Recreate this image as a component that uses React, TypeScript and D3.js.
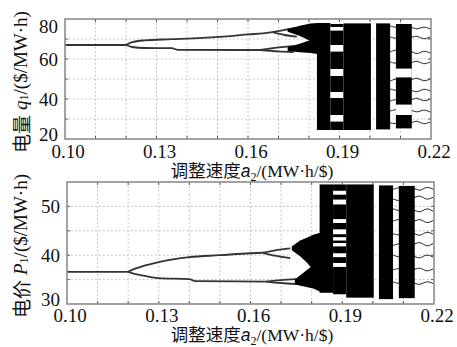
import React from "react";
import * as d3 from "d3";

// adjustment speed a2 (x axis, shared by both panels)
const aDomain = [0.1, 0.22];
const aTicks = [0.1, 0.13, 0.16, 0.19, 0.22];
const aGrid = [0.11, 0.12, 0.13, 0.14, 0.15, 0.16, 0.17, 0.18, 0.19, 0.2, 0.21];

// chaotic columns [a0, a1]
const chaosCols = [
  [0.1826, 0.187],
  [0.187, 0.1913],
  [0.1913, 0.2003],
  [0.202, 0.2066],
  [0.2085, 0.2137],
];
// a values of the sparse wandering orbits on the right
const sparseA = [0.2066, 0.209, 0.2115, 0.2137, 0.2155, 0.2175, 0.2197];

// ---- top panel: q1 ----
const q1Domain = [20, 80];
const q1Ticks = [20, 40, 60, 80];
const q1Grid = [30, 40, 50, 60, 70];
const q1Stable = [[0.1, 67], [0.12, 67]];
const q1UpperBranch = [[0.12, 67], [0.122, 68.4], [0.126, 69.3], [0.135, 69.9], [0.145, 70.6], [0.155, 71.6], [0.16, 72.3], [0.165, 72.8], [0.168, 73.4]];
const q1UpperHi = [[0.168, 73.4], [0.172, 74.6], [0.176, 75.5]];
const q1UpperLo = [[0.168, 73.4], [0.172, 72.0], [0.176, 71.2]];
const q1LowerBranch = [[0.12, 67], [0.122, 66.0], [0.126, 65.5], [0.135, 65.4], [0.137, 64.6], [0.164, 64.5]];
const q1LowerHi = [[0.164, 64.5], [0.17, 65.8], [0.175, 66.4]];
const q1LowerLo = [[0.164, 64.5], [0.17, 63.8], [0.175, 63.4]];
const q1Blobs = [
  [[0.173, 73.6, 75], [0.177, 71.5, 76.6], [0.1805, 69, 77.8], [0.1828, 67, 78]],
  [[0.173, 64, 66], [0.177, 63.4, 67.6], [0.1805, 63, 69.5], [0.1828, 62.5, 71]],
];
const q1ChaosLo = [24.5, 24.5, 24.5, 24.8, 25.3];
const q1ChaosHi = [78, 77.5, 77.8, 77.8, 77.5];
const q1Windows = [
  [],
  [[28.7, 32], [40.5, 43.5], [51.5, 55], [63.7, 67], [74.2, 76]],
  [],
  [],
  [[50.8, 55.2], [32, 37.2]],
];
const q1Sparse = [
  [76.5, 75.5, 76, 76, 74.5, 76.5, 75],
  [71, 70, 71.5, 70.5, 72, 69.5, 71],
  [63.5, 65, 64, 64, 62, 64.5, 63],
  [58.5, 57.5, 58, 58, 59.5, 57, 58.5],
  [49, 50.5, 49.5, 49.5, 51, 48.5, 50],
  [45, 44, 44.5, 44.5, 43, 45.5, 44],
  [39, 40, 39.5, 39.5, 41, 38.5, 40],
  [34, 35, 34.5, 34.5, 33, 35, 33.5],
  [28, 27.5, 28, 28, 29.5, 27, 28.5],
];

// ---- bottom panel: P1 ----
const p1Domain = [30, 55];
const p1Ticks = [30, 40, 50];
const p1Grid = [35, 40, 45, 50];
const p1Stable = [[0.1, 36.6], [0.12, 36.6]];
const p1UpperBranch = [[0.12, 36.6], [0.1225, 37.3], [0.125, 37.8], [0.13, 38.6], [0.14, 39.6], [0.15, 40], [0.16, 40.4], [0.164, 40.5]];
const p1UpperHi = [[0.164, 40.5], [0.168, 41], [0.173, 41.4]];
const p1UpperLo = [[0.164, 40.5], [0.168, 39.9], [0.173, 39.4]];
const p1LowerBranch = [[0.12, 36.6], [0.1225, 36.1], [0.125, 35.8], [0.13, 35.3], [0.14, 35.1], [0.142, 34.7], [0.165, 34.6]];
const p1LowerHi = [[0.165, 34.6], [0.17, 34.9], [0.175, 35.1]];
const p1LowerLo = [[0.165, 34.6], [0.17, 34.3], [0.175, 34.1]];
const p1Blobs = [
  [[0.1735, 41, 41.8], [0.1762, 39.8, 43], [0.1784, 38.5, 43.6], [0.1805, 37, 44.2], [0.1828, 35.5, 44.6]],
  [[0.1745, 34, 35], [0.1775, 33.6, 36.5], [0.1805, 33.2, 38], [0.1828, 32.5, 39]],
];
const p1ChaosLo = [32.3, 32, 31.3, 31, 31.2];
const p1ChaosHi = [54.5, 54.5, 54.5, 54.3, 54.2];
const p1Windows = [
  [],
  [[52.4, 53.2], [50.4, 51.4], [46.6, 47.4], [44.3, 45.3], [43, 43.7], [41.8, 42.5], [39.6, 40.4], [37.6, 38.4]],
  [],
  [],
  [],
];
const p1Sparse = [
  [53.5, 54, 53.6, 53.8, 53, 54.2, 53.5],
  [51.5, 51, 51.8, 51.7, 52.4, 51.2, 51.9],
  [49.5, 49, 49.2, 49.3, 48.6, 49.8, 49],
  [47, 47.5, 46.8, 46.9, 47.6, 46.4, 47.1],
  [44.4, 44, 44.6, 44.5, 43.8, 45, 44.3],
  [42, 42.5, 42.1, 42.2, 42.9, 41.6, 42.4],
  [40, 39.5, 39.9, 39.8, 39.2, 40.3, 39.6],
  [37, 37.4, 37.1, 37, 37.6, 36.5, 37.2],
  [34.5, 34.1, 34.4, 34.3, 33.8, 34.8, 34.2],
];

const serif = "Liberation Serif, Times New Roman, Tinos, DejaVu Serif, serif";
const cjk = "Noto Sans CJK SC, sans-serif";

function Panel({ x, y, yTicks, yGrid, branches, blobs, chaosLo, chaosHi, windows, sparse, yVar, yPrefix, tickDy, titleY, yTitleY }) {
  const [x0, x1] = x.range();
  const [y0, y1] = y.range(); // y0 bottom, y1 top
  const line = d3.line().x((d) => x(d[0])).y((d) => y(d[1])).curve(d3.curveMonotoneX);
  const area = d3.area().x((d) => x(d[0])).y0((d) => y(d[1])).y1((d) => y(d[2]));
  const sparseLine = d3.line().x((d, i) => x(sparseA[i])).y((d) => y(d)).curve(d3.curveBasis);
  const clipId = "clip" + Math.round(y1);
  return (
    <g>
      <defs>
        <clipPath id={clipId}>
          <rect x={x0} y={y1} width={x1 - x0} height={y0 - y1} />
        </clipPath>
      </defs>
      <rect x={x0} y={y1} width={x1 - x0} height={y0 - y1} fill="#fff" />
      {/* grid */}
      {aGrid.map((a) => (
        <line key={"gx" + a} x1={x(a)} x2={x(a)} y1={y1} y2={y0} stroke="#b8b8b8" strokeDasharray="1.5,2.5" />
      ))}
      {yGrid.map((v) => (
        <line key={"gy" + v} x1={x0} x2={x1} y1={y(v)} y2={y(v)} stroke="#b8b8b8" strokeDasharray="1.5,2.5" />
      ))}
      <g clipPath={`url(#${clipId})`}>
        {/* sparse orbits (under the dense columns) */}
        {sparse.map((s, i) => (
          <path key={"s" + i} d={sparseLine(s)} fill="none" stroke="#222" strokeWidth={1} />
        ))}
        {/* branches */}
        {branches.map((b, i) => (
          <path key={"b" + i} d={line(b)} fill="none" stroke="#333" strokeWidth={1.8} />
        ))}
        {blobs.map((b, i) => (
          <path key={"blob" + i} d={area(b)} fill="#000" />
        ))}
        {/* chaotic columns */}
        {chaosCols.map((c, i) => (
          <g key={"c" + i}>
            <rect x={x(c[0])} width={x(c[1]) - x(c[0])} y={y(chaosHi[i])} height={y(chaosLo[i]) - y(chaosHi[i])} fill="#000" />
            {windows[i].map((w, j) => (
              <rect key={j} x={x(c[0])} width={x(c[1]) - x(c[0])} y={y(w[1])} height={y(w[0]) - y(w[1])} fill="#fff" />
            ))}
          </g>
        ))}
      </g>
      {/* inward ticks */}
      {aGrid.map((a) => (
        <g key={"t" + a} stroke="#555">
          <line x1={x(a)} x2={x(a)} y1={y1} y2={y1 + 3} />
          <line x1={x(a)} x2={x(a)} y1={y0} y2={y0 - 3} />
        </g>
      ))}
      {yGrid.map((v) => (
        <g key={"ty" + v} stroke="#555">
          <line x1={x0} x2={x0 + 3} y1={y(v)} y2={y(v)} />
          <line x1={x1} x2={x1 - 3} y1={y(v)} y2={y(v)} />
        </g>
      ))}
      <rect x={x0} y={y1} width={x1 - x0} height={y0 - y1} fill="none" stroke="#8c8c8c" strokeWidth={1.6} />
      {/* tick labels */}
      {yTicks.map((v) => (
        <text key={"yl" + v} x={x0 - 7} y={Math.min(Math.max(y(v), y1 + 7), y0 - 5)} textAnchor="end" dominantBaseline="central" fontFamily={serif} fontSize={19} fill="#111">
          {v}
        </text>
      ))}
      {aTicks.map((a) => (
        <text key={"xl" + a} x={x(a) + 3} y={y0 + tickDy} textAnchor="middle" fontFamily={serif} fontSize={19} fill="#111">
          {d3.format(".2f")(a)}
        </text>
      ))}
      <text x={252} y={titleY} textAnchor="middle" fontFamily={serif} fontSize={17.5} fill="#111">
        <tspan fontFamily={cjk}>调整速度</tspan>
        <tspan fontStyle="italic" fontFamily="Liberation Sans, DejaVu Sans, sans-serif">a</tspan>
        <tspan fontSize={12} dy={4}>2</tspan>
        <tspan dy={-4}>/(MW·h/$)</tspan>
      </text>
      <text transform={`translate(20,${yTitleY}) rotate(-90)`} textAnchor="middle" dominantBaseline="central" fontFamily={serif} fontSize={19} fill="#111">
        <tspan fontFamily={cjk}>{yPrefix}</tspan>
        <tspan fontStyle="italic" dx={5}>{yVar}</tspan>
        <tspan fontSize={12} dy={4}>1</tspan>
        <tspan dy={-4}>/($/MW·h)</tspan>
      </text>
    </g>
  );
}

export default function App() {
  const xTop = d3.scaleLinear().domain(aDomain).range([65, 431]);
  const yTop = d3.scaleLinear().domain(q1Domain).range([139, 19]);
  const xBot = d3.scaleLinear().domain(aDomain).range([67, 434]);
  const yBot = d3.scaleLinear().domain(p1Domain).range([304, 182]);
  return (
    <svg width={457} height={347} style={{ position: "absolute", left: 0, top: 0, background: "#fff" }}>
      <rect width={457} height={347} fill="#fff" />
      <Panel
        x={xTop}
        y={yTop}
        yTicks={q1Ticks}
        yGrid={q1Grid}
        branches={[q1Stable, q1UpperBranch, q1UpperHi, q1UpperLo, q1LowerBranch, q1LowerHi, q1LowerLo]}
        blobs={q1Blobs}
        chaosLo={q1ChaosLo}
        chaosHi={q1ChaosHi}
        windows={q1Windows}
        sparse={q1Sparse}
        yVar="q"
        yPrefix="电量"
        tickDy={19}
        titleY={177}
        yTitleY={82}
      />
      <Panel
        x={xBot}
        y={yBot}
        yTicks={p1Ticks}
        yGrid={p1Grid}
        branches={[p1Stable, p1UpperBranch, p1UpperHi, p1UpperLo, p1LowerBranch, p1LowerHi, p1LowerLo]}
        blobs={p1Blobs}
        chaosLo={p1ChaosLo}
        chaosHi={p1ChaosHi}
        windows={p1Windows}
        sparse={p1Sparse}
        yVar="P"
        yPrefix="电价"
        tickDy={18}
        titleY={341}
        yTitleY={246}
      />
    </svg>
  );
}
